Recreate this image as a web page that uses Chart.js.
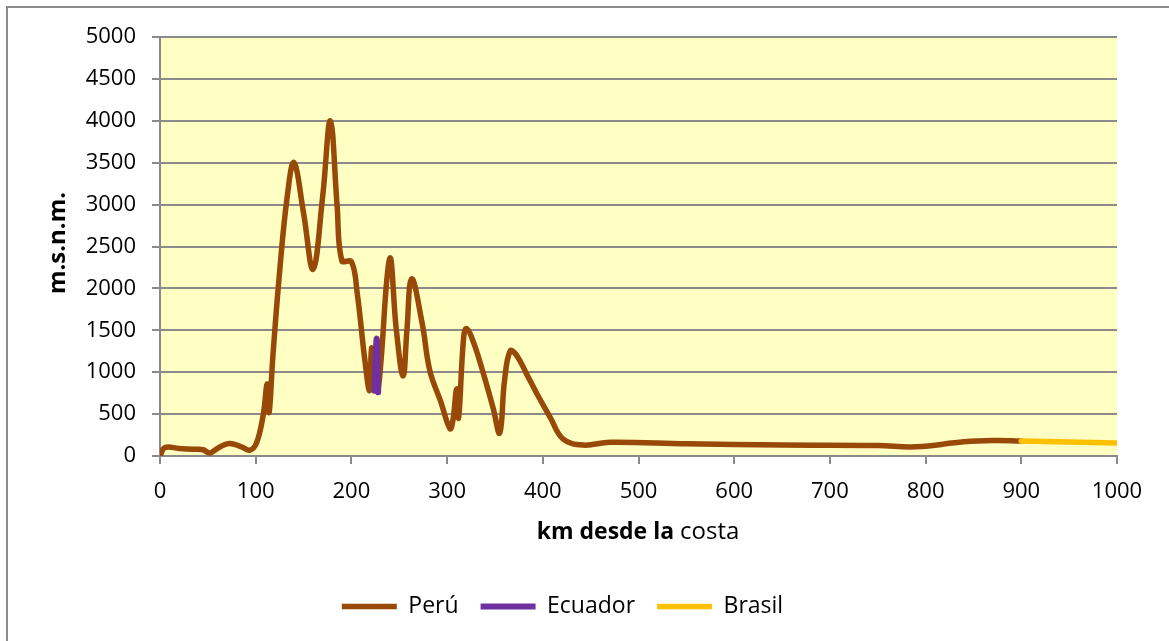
<!DOCTYPE html>
<html>
<head>
<meta charset="utf-8">
<script src="https://cdn.jsdelivr.net/npm/chart.js@4.4.0/dist/chart.umd.min.js"></script>
<style>
  html, body { margin: 0; padding: 0; background: #fff; }
  #wrap { position: relative; width: 1169px; height: 641px; }
</style>
</head>
<body>
<div id="wrap"><canvas id="grafico" width="1169" height="641"></canvas></div>
<script>
// DATOS (km desde la costa, m.s.n.m.)
const peruKm = [0, 5, 20, 35, 45, 52, 60, 72, 85, 94, 101, 108, 112, 114, 118, 125, 133, 140, 150, 160, 170, 178, 185, 190, 200, 206, 214, 219, 221, 224, 228, 240, 247, 254, 258, 263, 274, 282, 293, 303, 306, 310, 312, 317, 320, 327, 338, 348, 355, 360, 366, 373, 383, 394, 408, 421, 442, 470, 550, 650, 750, 790, 840, 870, 900];
const peruM = [0, 100, 90, 80, 75, 35, 90, 150, 110, 70, 160, 500, 860, 520, 1200, 2200, 3100, 3500, 2900, 2230, 3100, 4000, 3000, 2330, 2320, 1950, 1150, 780, 1290, 850, 780, 2355, 1500, 955, 1500, 2115, 1580, 1015, 660, 325, 420, 800, 455, 1375, 1520, 1375, 980, 575, 275, 900, 1255, 1195, 980, 740, 455, 205, 130, 165, 145, 130, 125, 110, 170, 185, 180];

const ecuadorKm = [224, 226.5, 228];
const ecuadorM = [780, 1400, 760];

const brasilKm = [900, 1000];
const brasilM = [180, 155];

const xTicks = [0, 100, 200, 300, 400, 500, 600, 700, 800, 900, 1000];
const yTicks = [0, 500, 1000, 1500, 2000, 2500, 3000, 3500, 4000, 4500, 5000];

const FUENTE = "'Open Sans', sans-serif";
const GRIS = "#8a8a8a";

function puntos(xs, ys) {
  return xs.map((x, i) => ({ x: x, y: ys[i] }));
}

// fondo, borde y títulos de ejes
const decoracion = {
  id: "decoracion",
  beforeDraw(chart) {
    const { ctx, chartArea } = chart;
    ctx.save();
    ctx.fillStyle = "#ffffc4";
    ctx.fillRect(chartArea.left, chartArea.top, chartArea.right - chartArea.left, chartArea.bottom - chartArea.top);
    ctx.strokeStyle = GRIS;
    ctx.lineWidth = 2;
    ctx.strokeRect(7, 7, 1200, 700);
    ctx.restore();
  },
  afterDraw(chart) {
    const { ctx } = chart;
    ctx.save();
    ctx.fillStyle = "#000";
    ctx.textBaseline = "middle";
    // título eje x: "km desde la" en negrita + "costa"
    const negrita = "bold 23px " + FUENTE;
    const normal = "24px " + FUENTE;
    ctx.font = negrita;
    const w1 = ctx.measureText("km desde la ").width;
    ctx.font = normal;
    const w2 = ctx.measureText("costa").width;
    const x0 = 638 - (w1 + w2) / 2;
    ctx.textAlign = "left";
    ctx.font = negrita;
    ctx.fillText("km desde la ", x0, 532);
    ctx.font = normal;
    ctx.fillText("costa", x0 + w1, 532);
    // título eje y
    ctx.translate(58, 243);
    ctx.rotate(-Math.PI / 2);
    ctx.textAlign = "center";
    ctx.font = "bold 24px " + FUENTE;
    ctx.fillText("m.s.n.m.", 0, 0);
    ctx.restore();
  }
};

const ctx = document.getElementById("grafico");
new Chart(ctx, {
  type: "line",
  data: {
    datasets: [
      {
        label: "Perú",
        data: puntos(peruKm, peruM),
        borderColor: "#984807",
        backgroundColor: "#984807",
        borderWidth: 5.5,
        borderCapStyle: "round",
        borderJoinStyle: "round",
        tension: 0.4,
        pointRadius: 0,
        order: 3,
      },
      {
        label: "Ecuador",
        data: puntos(ecuadorKm, ecuadorM),
        borderColor: "#7030a0",
        backgroundColor: "#7030a0",
        borderWidth: 6,
        borderCapStyle: "round",
        borderJoinStyle: "round",
        tension: 0.4,
        pointRadius: 0,
        order: 1,
      },
      {
        label: "Brasil",
        data: puntos(brasilKm, brasilM),
        borderColor: "#ffc000",
        backgroundColor: "#ffc000",
        borderWidth: 5.5,
        borderCapStyle: "round",
        borderJoinStyle: "round",
        tension: 0.4,
        pointRadius: 0,
        order: 2,
      },
    ],
  },
  options: {
    responsive: false,
    animation: false,
    devicePixelRatio: 1,
    layout: { padding: { left: 8, top: 37, right: 52, bottom: 13 } },
    scales: {
      x: {
        type: "linear",
        min: 0,
        max: 1000,
        afterBuildTicks: (scale) => { scale.ticks = xTicks.map((v) => ({ value: v })); },
        afterFit: (scale) => { scale.height = 117; },
        grid: { drawOnChartArea: false, drawTicks: true, tickLength: 8, color: GRIS, lineWidth: 2 },
        border: { color: GRIS, width: 2 },
        ticks: { color: "#000", font: { family: FUENTE, size: 22 }, padding: 15, maxRotation: 0, callback: (v) => String(v) },
      },
      y: {
        min: 0,
        max: 5000,
        afterBuildTicks: (scale) => { scale.ticks = yTicks.map((v) => ({ value: v })); },
        afterFit: (scale) => { scale.width = 152; },
        grid: { color: GRIS, lineWidth: 2, tickLength: 8 },
        border: { color: GRIS, width: 2 },
        ticks: { color: "#000", font: { family: FUENTE, size: 22 }, padding: 16, callback: (v) => String(v) },
      },
    },
    plugins: {
      legend: {
        position: "bottom",
        labels: {
          usePointStyle: true,
          pointStyle: "line",
          pointStyleWidth: 55,
          padding: 22,
          color: "#000",
          font: { family: FUENTE, size: 23 },
          sort: (a, b) => a.datasetIndex - b.datasetIndex,
        },
      },
      tooltip: { enabled: false },
    },
  },
  plugins: [decoracion],
});
</script>
</body>
</html>
